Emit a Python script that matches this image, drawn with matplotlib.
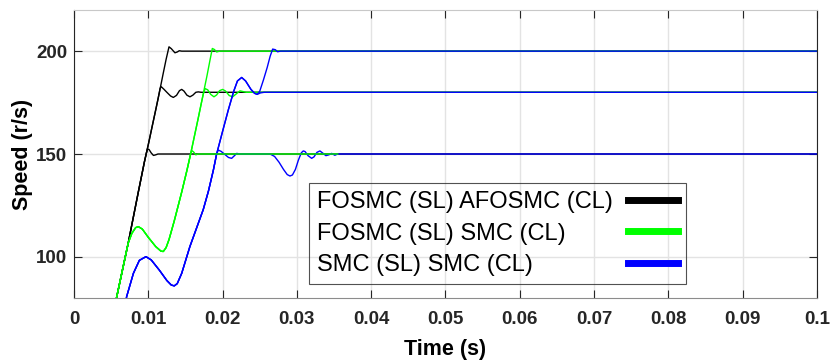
import matplotlib
matplotlib.use('Agg')
import matplotlib.pyplot as plt
from matplotlib.lines import Line2D

# ---- data (time in s, speed in r/s) ----
# black: FOSMC (SL) AFOSMC (CL)
t_black_rise = [0.0045, 0.00575, 0.0073, 0.00866, 0.0095]
y_black_rise = [58, 80.5, 106.7, 131.5, 146.5]
t_black_150 = [0.00975, 0.0099, 0.0101, 0.0104, 0.0107, 0.0110, 0.0113, 0.1]
y_black_150 = [150.5, 152.4, 152.2, 150.5, 149.3, 149.6, 150, 150]
t_black_180 = [0.0100, 0.0105, 0.0110, 0.0113, 0.0116, 0.01175, 0.0121, 0.0125, 0.0130,
               0.01337, 0.0138, 0.0142, 0.0145, 0.0148, 0.0152, 0.01561, 0.0160, 0.0164,
               0.01673, 0.0171, 0.1]
y_black_180 = [154.5, 163, 171.4, 176.5, 182, 182.7, 181.5, 180, 178.2,
               177.5, 178.5, 180.8, 181.4, 180.6, 178.6, 177.8, 178.6, 180,
               180.2, 180, 180]
t_black_200 = [0.0100, 0.0105, 0.0110, 0.0115, 0.0120, 0.0124, 0.01279, 0.0131, 0.01359,
               0.0139, 0.01417, 0.0145, 0.1]
y_black_200 = [154.5, 163, 171.4, 180, 189, 196, 202.1, 201.2, 199.2,
               199.6, 200.2, 200, 200]

# green: FOSMC (SL) SMC (CL)
t_green_rise = [0.0045, 0.00575, 0.0073, 0.0078, 0.0083, 0.00866, 0.0092, 0.0100, 0.0110,
                0.0117, 0.01202, 0.0124, 0.0128, 0.0135, 0.0145, 0.0152]
y_green_rise = [58, 80.5, 106.7, 111.5, 114.2, 114.7, 113.5, 109.5, 105,
                102.8, 102.6, 104.5, 108.5, 117.5, 131.5, 142]
t_green_150 = [0.0157, 0.01585, 0.0161, 0.0164, 0.0167, 0.0355]
y_green_150 = [150, 151.7, 151, 149.6, 150, 150]
t_green_180 = [0.0157, 0.0162, 0.0167, 0.0171, 0.0174, 0.01765, 0.0180, 0.0184, 0.01884,
               0.0192, 0.0196, 0.02001, 0.0204, 0.0209, 0.02136, 0.0217, 0.02234, 0.0227,
               0.0232, 0.1]
y_green_180 = [150, 158.5, 167, 174, 179, 181.8, 181.2, 179, 177.8,
               178.7, 180.8, 181.4, 180.6, 178.4, 177.8, 178.8, 180.7, 180.4,
               180, 180]
t_green_200 = [0.0157, 0.0162, 0.0167, 0.0171, 0.0175, 0.0179, 0.0183, 0.01862, 0.0189,
               0.0192, 0.0196, 0.1]
y_green_200 = [150, 158.5, 167, 174, 181, 188, 195.5, 201.3, 200.8,
               199.6, 200, 200]

# blue: SMC (SL) SMC (CL)
t_blue_rise = [0.0060, 0.00709, 0.0080, 0.0088, 0.00969, 0.0104, 0.0115, 0.0125, 0.0131,
               0.0135, 0.0139, 0.0145, 0.0156, 0.0165, 0.0174, 0.0181, 0.01875]
y_blue_rise = [58, 80.7, 92, 98.3, 100.1, 98.5, 93.5, 88.5, 86.3,
               85.9, 87, 92, 105, 114, 123, 132, 142]
t_blue_150 = [0.0192, 0.01942, 0.0198, 0.0203, 0.0208, 0.02122, 0.0216, 0.0219, 0.0223,
              0.0264, 0.0270, 0.0276, 0.0282, 0.0287, 0.02907, 0.0294, 0.0298, 0.0302,
              0.0306, 0.03086, 0.0311, 0.0315, 0.03199, 0.0323, 0.0327, 0.0331, 0.0335,
              0.0339, 0.0343, 0.03468, 0.0351, 0.0355, 0.1]
y_blue_150 = [150, 151.9, 151.3, 149.8, 148.3, 147.9, 149.2, 150.3, 150,
              150, 148.8, 146, 142.5, 140, 139.3, 139.8, 142.5, 147,
              150.6, 151.5, 151.2, 149.2, 147.9, 148.6, 150.8, 151.5, 150.4,
              149.2, 149.6, 150.3, 149.4, 150, 150]
t_blue_high = [0.0192, 0.0200, 0.02077, 0.0215, 0.0220, 0.02257, 0.0231, 0.0238, 0.0243,
               0.02467]
y_blue_high = [150, 161, 171.4, 180.5, 185.5, 187.2, 185.5, 181.5, 179.5, 179]
t_blue_180 = [0.0251, 0.0256, 0.1]
y_blue_180 = [179.7, 180, 180]
t_blue_200 = [0.0250, 0.0255, 0.0260, 0.0264, 0.02674, 0.0271, 0.0274, 0.0278, 0.1]
y_blue_200 = [180.5, 186, 192, 197.5, 201, 200.7, 199.7, 200, 200]

labels = ['FOSMC (SL) AFOSMC (CL)', 'FOSMC (SL) SMC (CL)', 'SMC (SL) SMC (CL)']
colors = ['#000000', '#00ff00', '#0000ff']
x_ticks = [0, 0.01, 0.02, 0.03, 0.04, 0.05, 0.06, 0.07, 0.08, 0.09, 0.1]
x_tick_labels = ['0', '0.01', '0.02', '0.03', '0.04', '0.05', '0.06', '0.07', '0.08', '0.09', '0.1']
y_ticks = [100, 150, 200]

plt.rcParams['font.family'] = ['Liberation Sans', 'DejaVu Sans']

fig = plt.figure(figsize=(8.32, 3.61), dpi=100)
ax = fig.add_axes([0.0889, 0.1745, 0.8931, 0.7978])

lw = 1.0
# drawing order so that the visible overlaps look like the reference
for tt, yt in [(t_black_150, y_black_150), (t_black_180, y_black_180),
               (t_black_200, y_black_200)]:
    ax.plot(t_black_rise + tt, y_black_rise + yt, color=colors[0], lw=lw)
for tt, yt in [(t_green_180, y_green_180), (t_green_200, y_green_200)]:
    ax.plot(t_green_rise + tt, y_green_rise + yt, color=colors[1], lw=lw)
ax.plot(t_blue_rise + t_blue_150, y_blue_rise + y_blue_150, color=colors[2], lw=lw)
ax.plot(t_blue_rise + t_blue_high + t_blue_180, y_blue_rise + y_blue_high + y_blue_180,
        color=colors[2], lw=lw)
ax.plot(t_blue_rise + t_blue_high + t_blue_200, y_blue_rise + y_blue_high + y_blue_200,
        color=colors[2], lw=lw)
ax.plot(t_green_rise + t_green_150, y_green_rise + y_green_150, color=colors[1], lw=lw)

ax.set_xlim(0, 0.1)
ax.set_ylim(80, 220)
ax.set_xticks(x_ticks)
ax.set_xticklabels(x_tick_labels)
ax.set_yticks(y_ticks)
ax.grid(True, color='#e3e3e3', lw=1.0)
ax.set_axisbelow(True)

ax.tick_params(direction='in', length=6, width=0.8, colors='#262626',
               labelsize=13.5, top=True, right=True)
ax.tick_params(axis='x', pad=9)
ax.tick_params(axis='y', pad=5)
for lab in ax.get_xticklabels() + ax.get_yticklabels():
    lab.set_fontweight('bold')

ax.spines['left'].set_color('#262626')
ax.spines['right'].set_color('#262626')
ax.spines['bottom'].set_color('#8c8c8c')
ax.spines['top'].set_color('#c8c8c8')

ax.set_xlabel('Time (s)', fontsize=15.5, fontweight='bold', labelpad=8)
ax.set_ylabel('Speed (r/s)', fontsize=15.5, fontweight='bold', labelpad=2)

handles = [Line2D([], [], color=c, lw=5) for c in colors]
leg = ax.legend(handles, labels, loc='upper left', bbox_to_anchor=(0.316, 0.40),
                markerfirst=False, fontsize=17, frameon=True, fancybox=False,
                handlelength=2.1, handletextpad=0.65, labelspacing=0.4,
                borderpad=0.35, borderaxespad=0.0)
frame = leg.get_frame()
frame.set_facecolor('none')
frame.set_edgecolor('#262626')
frame.set_linewidth(0.8)

# labels are left aligned in the reference, with the line samples in one column
fig.canvas.draw()
renderer = fig.canvas.get_renderer()
widths = [t.get_window_extent(renderer).width for t in leg.get_texts()]
wmax = max(widths)
rows = []
for col in leg._legend_handle_box.get_children():
    rows.extend(col.get_children())
for row, w in zip(rows, widths):
    row.sep = row.sep + (wmax - w) * 72.0 / fig.dpi

plt.savefig('out.png', dpi=100)
